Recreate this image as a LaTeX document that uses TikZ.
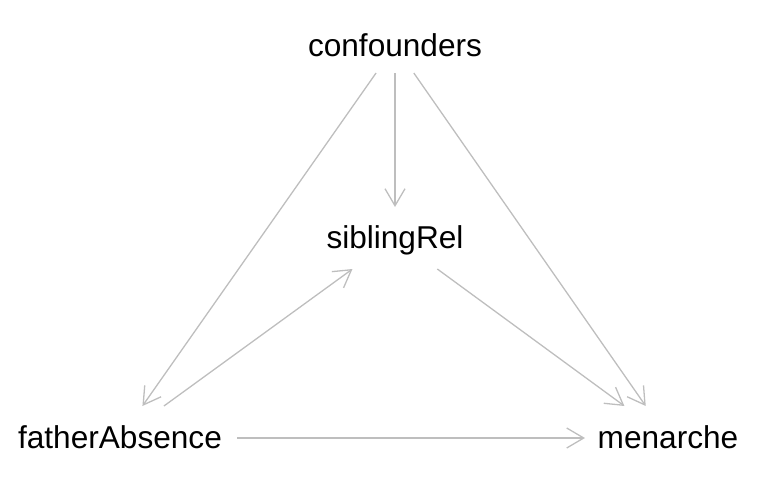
\documentclass[tikz,border=0pt]{standalone}
\usepackage{fontspec}
\setmainfont{Liberation Sans}
\usetikzlibrary{arrows.meta}
\definecolor{edgegray}{HTML}{BEBEBE}
\begin{document}
\begin{tikzpicture}[x=1pt,y=-1pt,
  var/.style={shape=rectangle, inner sep=0pt, outer sep=0pt,
    text height=24pt, text depth=4pt,
    font=\fontsize{31.6}{38}\selectfont, text=black},
  edge/.style={draw=edgegray, line width=1.3pt,
    -{Straight Barb[length=17pt,width=20pt]}}]
\useasboundingbox (0,0) rectangle (768,480);
\node[var, minimum width=200pt, minimum height=54pt] (conf) at (395,46) {confounders};
\node[var, minimum width=170pt, minimum height=62pt] (sib) at (395,238) {siblingRel};
\node[var, minimum width=234pt, minimum height=64pt] (fa) at (120,438) {fatherAbsence};
\node[var, minimum width=166pt, minimum height=64pt] (men) at (668,438) {menarche};
\draw[edge] (conf) -- (fa);
\draw[edge] (conf) -- (sib);
\draw[edge] (conf) -- (men);
\draw[edge] (sib) -- (men);
\draw[edge] (fa) -- (sib);
\draw[edge] (fa) -- (men);
\end{tikzpicture}
\end{document}
